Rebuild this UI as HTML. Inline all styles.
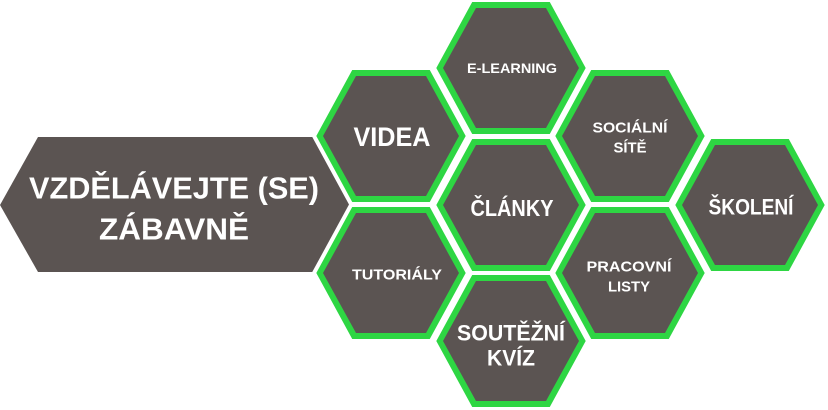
<!DOCTYPE html>
<html><head><meta charset="utf-8"><style>
html,body{margin:0;padding:0;background:#fff;}
svg{display:block;}
text{font-family:"Liberation Sans","DejaVu Sans",sans-serif;font-weight:bold;fill:#fff;text-anchor:middle;dominant-baseline:central;text-transform:uppercase;}
</style></head><body>
<svg width="828" height="410" viewBox="0 0 828 410" xmlns="http://www.w3.org/2000/svg">
<defs>
<g id="hx">
<polygon points="-77,0 -40,-68 40,-68 77,0 40,68 -40,68" fill="#2ed643" stroke="#fff" stroke-width="4" stroke-linejoin="miter"/>
<polygon points="-68,0 -35,-60 35,-60 68,0 35,60 -35,60" fill="#5b5452"/>
</g>
</defs>
<polygon points="0,205 38,137 313,137 352,205 313,272 38,272" fill="#5b5452"/>
<text x="174" y="188" font-size="31" textLength="290" lengthAdjust="spacingAndGlyphs">VZDĚLÁVEJTE (SE)</text>
<text x="174" y="229" font-size="31" textLength="150" lengthAdjust="spacingAndGlyphs">ZÁBAVNĚ</text>

<use href="#hx" x="511" y="68"/>
<use href="#hx" x="391" y="136"/>
<use href="#hx" x="630" y="136"/>
<use href="#hx" x="511" y="205"/>
<use href="#hx" x="750" y="205"/>
<use href="#hx" x="391" y="273"/>
<use href="#hx" x="630" y="273"/>
<use href="#hx" x="511" y="341"/>

<text x="512" y="68" font-size="14" textLength="90" lengthAdjust="spacingAndGlyphs">E-LEARNING</text>
<text x="392" y="137" font-size="27" textLength="77" lengthAdjust="spacingAndGlyphs">VIDEA</text>
<text x="630" y="128" font-size="15" textLength="75" lengthAdjust="spacingAndGlyphs">SOCIÁLNÍ</text>
<text x="630" y="148" font-size="15" textLength="33" lengthAdjust="spacingAndGlyphs">SÍTĚ</text>
<text x="512" y="208" font-size="23" textLength="83" lengthAdjust="spacingAndGlyphs">ČLÁNKY</text>
<text x="751" y="207" font-size="22" textLength="85" lengthAdjust="spacingAndGlyphs">ŠKOLENÍ</text>
<text x="397" y="275" font-size="15" textLength="90" lengthAdjust="spacingAndGlyphs">TUTORIÁLY</text>
<text x="629" y="267" font-size="15" textLength="85" lengthAdjust="spacingAndGlyphs">PRACOVNÍ</text>
<text x="629" y="287" font-size="15" textLength="42" lengthAdjust="spacingAndGlyphs">LISTY</text>
<text x="511" y="333" font-size="22" textLength="108" lengthAdjust="spacingAndGlyphs">SOUTĚŽNÍ</text>
<text x="511" y="358" font-size="22" textLength="48" lengthAdjust="spacingAndGlyphs">KVÍZ</text>
</svg>
</body></html>
